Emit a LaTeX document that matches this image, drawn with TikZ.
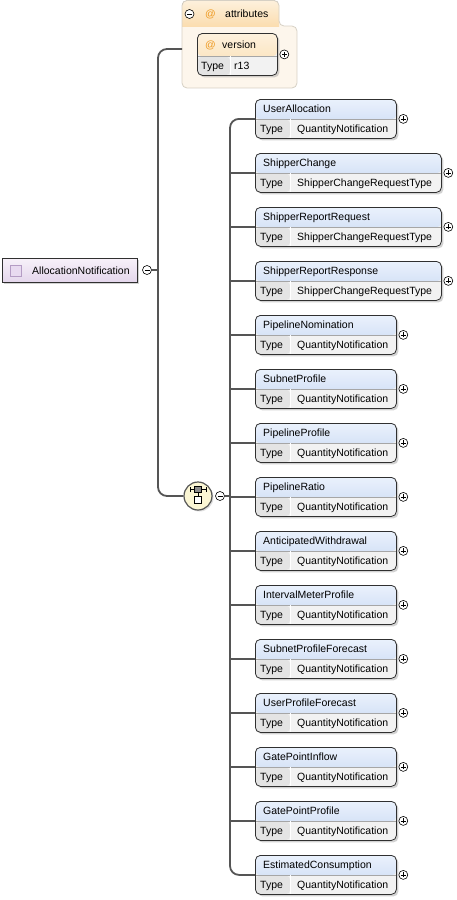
\documentclass[tikz,border=0pt]{standalone}
\usepackage{fontspec}
\setmainfont{Liberation Sans}
\usetikzlibrary{shadows}
\definecolor{linegray}{HTML}{555555}
\definecolor{boxline}{HTML}{303030}
\definecolor{hdrtop}{HTML}{EAF1FC}
\definecolor{hdrbot}{HTML}{C4D6F2}
\definecolor{typebg}{HTML}{F2F2F2}
\definecolor{typecell}{HTML}{E4E4E4}
\definecolor{atttop}{HTML}{FDF1DD}
\definecolor{attbot}{HTML}{FBDDB0}
\definecolor{attbody}{HTML}{FDF6EC}
\definecolor{attline}{HTML}{D6D0C4}
\definecolor{atsign}{HTML}{EE9A22}
\definecolor{roottop}{HTML}{F7F1F9}
\definecolor{rootbot}{HTML}{E4D6EC}
\definecolor{rooticonfill}{HTML}{E8DAF0}
\definecolor{rooticonline}{HTML}{B49CC4}
\definecolor{choicebg}{HTML}{FBF6D4}
\tikzset{
  conn/.style={draw=linegray, line width=1.8pt},
  lbl/.style={anchor=west, inner sep=0pt, text height=7.6pt, text depth=0pt, font=\fontsize{10.5}{12}\selectfont},
  expander/.style={circle, draw=black, fill=white, line width=0.6pt, minimum size=9pt, inner sep=0pt},
  minuscirc/.style={expander, path picture={\draw[line width=0.6pt] ([xshift=-2.5pt]path picture bounding box.center) -- ([xshift=2.5pt]path picture bounding box.center);}},
  pluscirc/.style={expander, path picture={\draw[line width=0.6pt] ([xshift=-2.5pt]path picture bounding box.center) -- ([xshift=2.5pt]path picture bounding box.center) ([yshift=-2.5pt]path picture bounding box.center) -- ([yshift=2.5pt]path picture bounding box.center);}},
  boxbase/.style n args={4}{draw=boxline, line width=0.8pt, rounded corners=5pt, fill=typebg, inner sep=0pt, anchor=north west,
    drop shadow={shadow xshift=2pt, shadow yshift=-2pt, fill=black!35},
    path picture={
      \fill[top color=#2, bottom color=#3] (path picture bounding box.north west) rectangle ([yshift=-#1]path picture bounding box.north east);
      \fill[typecell] ([yshift=-#1]path picture bounding box.north west) rectangle ([xshift=#4]path picture bounding box.south west);
      \draw[black!35, line width=0.5pt] ([yshift=-#1]path picture bounding box.north west) -- ([yshift=-#1]path picture bounding box.north east);
      \draw[white, line width=0.8pt] ([xshift=#4, yshift=-#1]path picture bounding box.north west) -- ([xshift=#4]path picture bounding box.south west);
    }},
  elembox/.style={boxbase={20pt}{hdrtop}{hdrbot}{35pt}, minimum height=39pt},
  attrbox/.style={boxbase={23pt}{atttop}{attbot}{33pt}, minimum height=42pt},
  rootbox/.style={draw=boxline, line width=0.8pt, top color=roottop, bottom color=rootbot, inner sep=0pt, anchor=north west,
    minimum width=135pt, minimum height=24pt, drop shadow={shadow xshift=2pt, shadow yshift=-2pt, fill=black!35}},
  rooticon/.style={draw=rooticonline, fill=rooticonfill, line width=0.8pt, minimum size=11pt, inner sep=0pt},
  choicesym/.style={circle, draw=linegray, line width=1.2pt, fill=choicebg, minimum size=28pt, inner sep=0pt,
    drop shadow={shadow xshift=1.5pt, shadow yshift=-1.5pt, fill=black!25}},
}
\begin{document}
\begin{tikzpicture}[x=1pt, y=-1pt]
  \useasboundingbox (0,0) rectangle (457,900);
  % root element
  \node[rootbox] (root) at (2,258) {};
  \node[rooticon] (rootmark) at ([xshift=13.5pt]root.west) {};
  \node[lbl] (rootname) at ([xshift=30pt]root.west) {AllocationNotification};
  \node[minuscirc] (rootminus) at (147,270) {};
  % attributes group
  \begin{scope}
    \clip[rounded corners=5pt] (182,88) -- (182,0.5) -- (279,0.5) -- (279,26) -- (297,26) -- (297,88) -- cycle;
    \fill[attbody] (182,0) rectangle (297,88);
    \fill[top color=atttop, bottom color=attbot] (182,0) rectangle (279,26);
  \end{scope}
  \draw[attline, line width=0.8pt, rounded corners=5pt] (182,88) -- (182,0.5) -- (279,0.5) -- (279,26) -- (297,26) -- (297,88) -- cycle;
  \node[minuscirc] (attrminus) at (189.5,14) {};
  \node[lbl, text=atsign] (attrat) at (205,14) {@};
  \node[lbl] (attrname) at (225,14) {attributes};
  \coordinate (attrin) at (182,49);
  \node[attrbox, minimum width=80pt] (version) at (197,33) {};
  \node[lbl, text=atsign] (versionat) at ([xshift=8pt, yshift=-12pt]version.north west) {@};
  \node[lbl] (versionname) at ([xshift=25pt, yshift=-12pt]version.north west) {version};
  \node[lbl] (versiontype) at ([xshift=4pt, yshift=-32.5pt]version.north west) {Type};
  \node[lbl] (versionval) at ([xshift=37pt, yshift=-32.5pt]version.north west) {r13};
  \node[pluscirc] (versionplus) at ([xshift=6.5pt]version.east) {};
  % choice
  \node[choicesym] (choice) at (198,496) {};
  \draw[line width=0.8pt] ([xshift=-8pt, yshift=6.5pt]choice.center) -- ([xshift=8pt, yshift=6.5pt]choice.center);
  \draw[line width=0.8pt] ([xshift=-8pt, yshift=4pt]choice.center) -- ([xshift=-8pt, yshift=9pt]choice.center);
  \draw[line width=0.8pt] ([xshift=8pt, yshift=4pt]choice.center) -- ([xshift=8pt, yshift=9pt]choice.center);
  \draw[line width=0.8pt] (choice.center) -- ([yshift=4pt]choice.center);
  \filldraw[fill=black!45, line width=0.6pt] ([xshift=-3.5pt, yshift=3.5pt]choice.center) rectangle ([xshift=3.5pt, yshift=9.5pt]choice.center);
  \filldraw[fill=white, line width=0.8pt] ([xshift=-3.5pt]choice.center) rectangle ([xshift=3.5pt, yshift=-7pt]choice.center);
  \node[minuscirc] (choiceminus) at (220,496) {};
  % child elements
  \foreach \nm/\tp/\w [count=\k from 0] in {
      UserAllocation/QuantityNotification/141,
      ShipperChange/ShipperChangeRequestType/186,
      ShipperReportRequest/ShipperChangeRequestType/186,
      ShipperReportResponse/ShipperChangeRequestType/186,
      PipelineNomination/QuantityNotification/141,
      SubnetProfile/QuantityNotification/141,
      PipelineProfile/QuantityNotification/141,
      PipelineRatio/QuantityNotification/141,
      AnticipatedWithdrawal/QuantityNotification/141,
      IntervalMeterProfile/QuantityNotification/141,
      SubnetProfileForecast/QuantityNotification/141,
      UserProfileForecast/QuantityNotification/141,
      GatePointInflow/QuantityNotification/141,
      GatePointProfile/QuantityNotification/141,
      EstimatedConsumption/QuantityNotification/141} {
    \pgfmathsetmacro\yt{99+54*\k}
    \node[elembox, minimum width=\w pt] (e\k) at (255,\yt) {};
    \node[lbl] (e\k name) at ([xshift=8pt, yshift=-10pt]e\k.north west) {\nm};
    \node[lbl] (e\k type) at ([xshift=5pt, yshift=-29.5pt]e\k.north west) {Type};
    \node[lbl] (e\k val) at ([xshift=42pt, yshift=-29.5pt]e\k.north west) {\tp};
    \node[pluscirc] (e\k plus) at ([xshift=6.5pt]e\k.east) {};
  }
  % connectors
  \coordinate (rootbus) at (158,270);
  \coordinate (elembus) at (230,496);
  \draw[conn] (rootminus.east) -- (rootminus.east -| rootbus);
  \draw[conn, rounded corners=9pt] (attrin) -- (attrin -| rootbus) -- (choice.west -| rootbus) -- (choice.west);
  \draw[conn] (choiceminus.east) -- (choiceminus.east -| elembus);
  \draw[conn, rounded corners=9pt] (e0.west) -- (e0.west -| elembus) -- (e14.west -| elembus) -- (e14.west);
  \foreach \k in {1,...,13}
    \draw[conn] (e\k.west -| elembus) -- (e\k.west);
\end{tikzpicture}
\end{document}
